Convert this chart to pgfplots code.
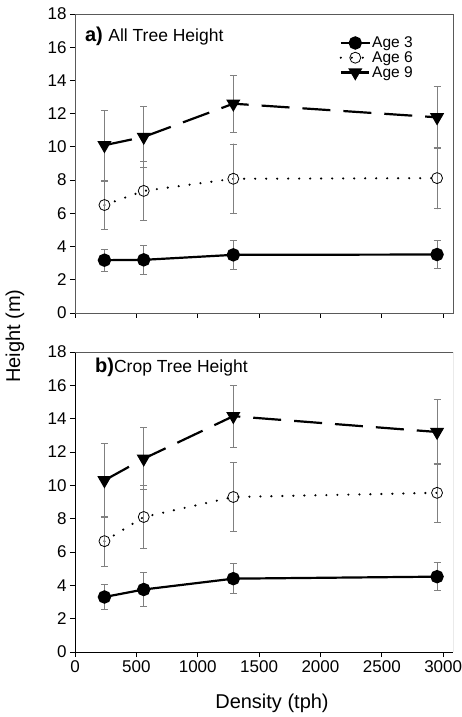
\documentclass[border=0pt]{standalone}
\usepackage{fontspec}
\setmainfont{Liberation Sans}
\usepackage{pgfplots}
\pgfplotsset{compat=1.18}

\pgfplotsset{
  panel/.style={
    scale only axis, width=378pt,
    xmin=0, xmax=3080, ymin=0, ymax=18,
    xtick={0,500,...,3000}, ytick={0,2,...,18},
    tick pos=left, tick align=outside, major tick length=5pt,
    tick style={black, line width=0.8pt},
    axis line style={black!65, line width=0.8pt},
    tick label style={font=\fontsize{17}{18}\selectfont},
    /pgf/number format/assume math mode=true,
    /pgf/number format/1000 sep={},
    error bars/y dir=both, error bars/y explicit,
    error bars/error bar style={black!50, line width=0.7pt, solid},
    error bars/error mark options={rotate=90, mark size=3.5pt, black!50, line width=0.7pt},
  },
  age3/.style={black, line width=2.2pt, mark=*, mark size=5.6pt, mark options={solid, fill=black}},
  age6/.style={black, line width=2.4pt, line cap=round, dash pattern=on 0pt off 11pt,
    mark=o, mark size=5.5pt, mark options={solid, fill=white, line width=0.8pt}},
  age9/.style={black, line width=2.2pt, dash pattern=on 28pt off 13pt,
    mark=triangle*, mark size=6pt, mark options={solid, rotate=180, fill=black}},
}

\begin{document}
\begin{tikzpicture}
\path[use as bounding box] (0,0) rectangle (461pt,717pt);

% a) all trees
\begin{axis}[panel, at={(75pt,404pt)}, anchor=south west, height=299pt,
  xticklabels={},
  legend style={at={(0.905,0.935)}, anchor=north east, draw=none, fill=none,
    font=\fontsize{15.5}{16}\selectfont, nodes={inner sep=1.2pt}, cells={anchor=west}},
  legend image code/.code={\draw[mark repeat=2, mark phase=2, #1]
    plot coordinates {(0pt,0pt) (14.5pt,0pt) (29pt,0pt)};},
]
\addplot[age3] coordinates {(240,3.18) +- (0,0.68) (560,3.20) +- (0,0.88) (1290,3.50) +- (0,0.88) (2950,3.52) +- (0,0.84)};
\addplot[age6] coordinates {(240,6.50) +- (0,1.45) (560,7.35) +- (0,1.75) (1290,8.08) +- (0,2.10) (2950,8.12) +- (0,1.85)};
\addplot[age9] coordinates {(240,10.10) +- (0,2.10) (560,10.60) +- (0,1.85) (1290,12.60) +- (0,1.70) (2950,11.78) +- (0,1.85)};
\legend{Age 3, Age 6, Age 9}
\node[anchor=west, inner sep=0pt] at (rel axis cs:0.026,0.925)
  {\fontsize{20}{20}\selectfont\bfseries a)\ \fontsize{17.5}{18}\mdseries All Tree Height};
\end{axis}

% b) crop trees
\begin{axis}[panel, at={(75pt,65pt)}, anchor=south west, height=300pt,
  axis y line*=left, axis x line*=bottom, axis line style={black, line width=0.8pt}]
\addplot[age3] coordinates {(240,3.30) +- (0,0.75) (560,3.75) +- (0,1.03) (1290,4.40) +- (0,0.90) (2950,4.52) +- (0,0.83)};
\addplot[age6] coordinates {(240,6.65) +- (0,1.50) (560,8.10) +- (0,1.90) (1290,9.30) +- (0,2.06) (2950,9.55) +- (0,1.75)};
\addplot[age9] coordinates {(240,10.30) +- (0,2.20) (560,11.60) +- (0,1.85) (1290,14.15) +- (0,1.86) (2950,13.20) +- (0,1.94)};
\draw[black!65, line width=0.8pt] (rel axis cs:0,1) -- (rel axis cs:1,1) -- (rel axis cs:1,0);
\node[anchor=west, inner sep=0pt] at (rel axis cs:0.053,0.95)
  {\fontsize{20}{20}\selectfont\bfseries b)\fontsize{17.5}{18}\mdseries Crop Tree Height};
\end{axis}

\node[rotate=90] at (15pt,381pt) {\fontsize{20}{20}\selectfont Height (m)};
\node at (272pt,14pt) {\fontsize{20}{20}\selectfont Density (tph)};
\end{tikzpicture}
\end{document}
